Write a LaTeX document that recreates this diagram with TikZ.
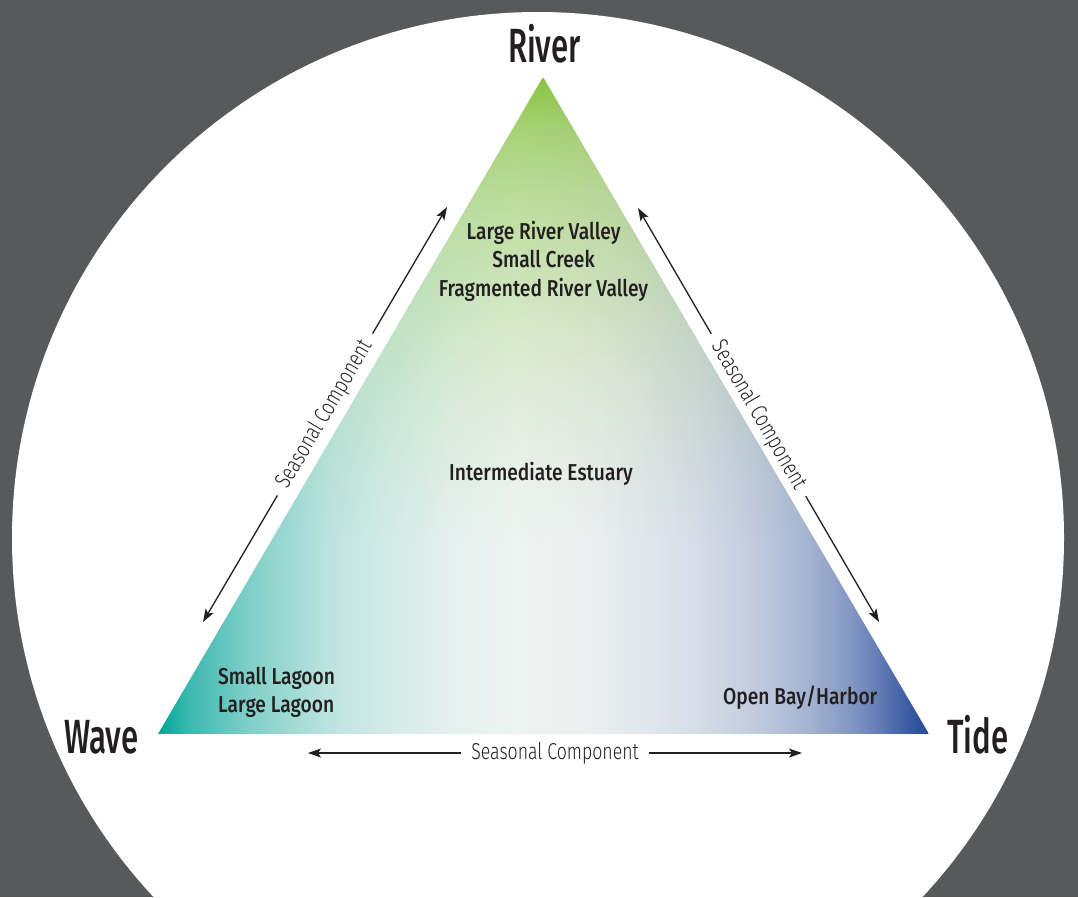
\documentclass[tikz,border=0pt]{standalone}
\usepackage{fontspec}
\setmainfont{Fira Sans Medium}[FakeStretch=0.835]
\newfontfamily\bigfont{Fira Sans Medium}[FakeStretch=0.65]
\newfontfamily\lightfont{Fira Sans Light}[FakeStretch=0.77]
\usetikzlibrary{arrows.meta,fadings}

\definecolor{bggray}{HTML}{58595B}
\definecolor{ink}{HTML}{231F20}
\definecolor{rivergreen}{HTML}{8DC63F}
\definecolor{waveteal}{HTML}{00A599}
\definecolor{tidenavy}{HTML}{284B9B}
\definecolor{basewhite}{HTML}{F3F6F4}

\pgfdeclareverticalshading{greenmask}{100bp}{color(0bp)=(black); color(25bp)=(black); color(27.1bp)=(black); color(34.3bp)=(black!95); color(41.6bp)=(black!88); color(48.9bp)=(black!78); color(56.1bp)=(black!64); color(62.3bp)=(black!52); color(69.6bp)=(black!30); color(75bp)=(white); color(100bp)=(white)}
\pgfdeclarefading{greenfade}{\pgfuseshading{greenmask}}

\pgfdeclarehorizontalshading{tealmask}{100bp}{color(0bp)=(white); color(25bp)=(white); color(28.6bp)=(black!25); color(35.4bp)=(black!53); color(44.5bp)=(black!78); color(50.1bp)=(black!86); color(58bp)=(black!94); color(65.9bp)=(black!98); color(75bp)=(black); color(100bp)=(black)}
\pgfdeclarefading{tealfade}{\pgfuseshading{tealmask}}

\pgfdeclarehorizontalshading{navymask}{100bp}{color(0bp)=(black); color(25bp)=(black); color(29.5bp)=(black); color(36.1bp)=(black!97); color(42.8bp)=(black!92); color(49.5bp)=(black!85); color(55.1bp)=(black!76); color(60.6bp)=(black!64); color(66.2bp)=(black!45); color(69.5bp)=(black!28); color(73.4bp)=(black!5); color(75bp)=(white); color(100bp)=(white)}
\pgfdeclarefading{navyfade}{\pgfuseshading{navymask}}

\tikzset{
  corner/.style={font=\bigfont\fontsize{48}{56}\selectfont, text=ink, inner sep=0pt},
  kind/.style={font=\fontsize{23}{28}\selectfont, text=ink, inner sep=0pt},
  season/.style={font=\lightfont\fontsize{23}{28}\selectfont, text=ink, inner xsep=10pt, inner ysep=0pt},
  arr/.style={draw=ink, line width=1.3pt, -{Stealth[length=13pt,width=9pt,inset=3pt]}}
}

\begin{document}
\begin{tikzpicture}[x=1pt,y=-1pt]
\useasboundingbox (0,0) rectangle (1078,897);
\fill[bggray] (0,0) rectangle (1078,897);
\fill[white] (538,538) circle[radius=526];

\coordinate (A) at (543,77);
\coordinate (B) at (158,734);
\coordinate (C) at (929,734);

\begin{scope}
  \clip (A) -- (B) -- (C) -- cycle;
  \fill[basewhite] (A) -- (B) -- (C) -- cycle;
  \fill[rivergreen, path fading=greenfade] (158,77) rectangle (929,560);
  \fill[waveteal, path fading=tealfade] (158,77) rectangle (600,734);
  \fill[tidenavy, path fading=navyfade] (480,77) rectangle (929,734);
\end{scope}

% corner labels
\node[corner, anchor=base] (river) at (544.5,62) {River};
\node[corner, anchor=base west] (wave) at (64,753) {Wave};
\node[corner, anchor=base west] (tide) at (947,753) {Tide};

% estuary types
\node[kind, anchor=base] (k1) at (543.5,239) {Large River Valley};
\node[kind, anchor=base] (k2) at (543.5,267.5) {Small Creek};
\node[kind, anchor=base] (k3) at (543.5,296) {Fragmented River Valley};
\node[kind, anchor=base] (k4) at (541,480) {Intermediate Estuary};
\node[kind, anchor=base west] (k5) at (218,684) {Small Lagoon};
\node[kind, anchor=base west] (k6) at (218,712) {Large Lagoon};
\node[kind, anchor=base west] (k7) at (723,704) {Open Bay/Harbor};

% seasonal component arrows
\coordinate (LT) at (447,207);
\coordinate (LB) at (203,622);
\coordinate (RT) at (638,208);
\coordinate (RB) at (879,622);
\coordinate (BL) at (308,753);
\coordinate (BR) at (802,753);

\node[season, rotate=59.55] (sl) at (325,414.5) {Seasonal Component};
\node[season, rotate=-59.79] (sr) at (758.5,415) {Seasonal Component};
\node[season] (sb) at (555,753) {Seasonal Component};

\draw[arr] (sl.east) -- (LT);
\draw[arr] (sl.west) -- (LB);
\draw[arr] (sr.west) -- (RT);
\draw[arr] (sr.east) -- (RB);
\draw[arr] (sb.west) -- (BL);
\draw[arr] (sb.east) -- (BR);
\end{tikzpicture}
\end{document}
